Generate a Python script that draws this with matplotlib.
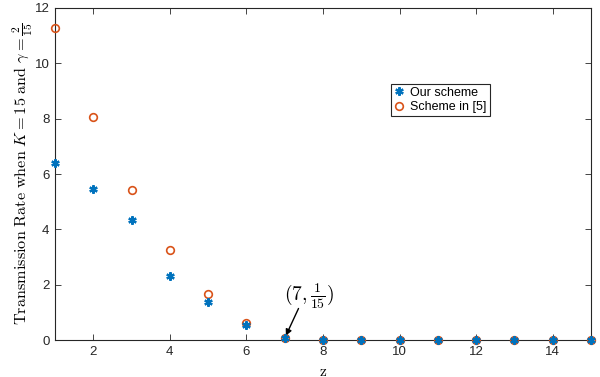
import matplotlib
matplotlib.use("Agg")
import matplotlib.pyplot as plt

z = list(range(1, 16))
our_scheme = [6.40, 5.45, 4.34, 2.33, 1.37, 0.55, 1/15, 0, 0, 0, 0, 0, 0, 0, 0]
scheme5 = [11.27, 8.06, 5.42, 3.26, 1.66, 0.60, 1/15, 0, 0, 0, 0, 0, 0, 0, 0]
xticks = [2, 4, 6, 8, 10, 12, 14]
yticks = [0, 2, 4, 6, 8, 10, 12]

plt.rcParams['font.family'] = ['Liberation Sans', 'DejaVu Sans']
plt.rcParams['mathtext.fontset'] = 'cm'

blue = '#0072BD'
orange = '#D95319'

fig = plt.figure(figsize=(6, 3.77), dpi=100)
ax = fig.add_axes([0.0917, 0.0981, 0.8933, 0.8807])

ax.plot(z, scheme5, linestyle='none', marker='o', markersize=5.5,
        markerfacecolor='none', markeredgecolor=orange, markeredgewidth=1.2,
        clip_on=False, zorder=3, label='Scheme in [5]')
ax.plot(z, our_scheme, linestyle='none', marker=(6, 2, 0), markersize=6,
        color=blue, markeredgewidth=1.6, clip_on=False, zorder=4,
        label='Our scheme')

ax.set_xlim(1, 15)
ax.set_ylim(0, 12)
ax.set_xticks(xticks)
ax.set_yticks(yticks)
ax.tick_params(direction='in', top=True, right=True, labelsize=9.5,
               colors='#262626', length=4, width=0.6, pad=4)
for s in ax.spines.values():
    s.set_linewidth(0.8)
    s.set_color('#262626')

ax.set_xlabel(r'$\mathrm{z}$', fontsize=11, labelpad=5)
ax.set_ylabel(r'$\mathrm{Transmission\ Rate\ when\ }K=15\mathrm{\ and\ }\gamma=\frac{2}{15}$',
              fontsize=11.7, labelpad=-1)

ax.text(7.62, 1.6, r'$(7,\frac{1}{15})$', ha='center', va='center', fontsize=14)
ax.annotate('', xy=(7, 1/15), xytext=(7.36, 1.14),
            arrowprops=dict(arrowstyle='-|>', color='black', lw=1.0,
                            mutation_scale=9, shrinkA=0, shrinkB=2))

handles, labels = ax.get_legend_handles_labels()
leg = ax.legend(handles[::-1], labels[::-1], loc='upper left',
                bbox_to_anchor=(0.627, 0.772), fontsize=9, frameon=True,
                fancybox=False, edgecolor='#262626', framealpha=1,
                handlelength=0.8, handletextpad=0.5, borderpad=0.25,
                labelspacing=0.2, borderaxespad=0)
leg.get_frame().set_linewidth(0.8)

fig.savefig('out.png', dpi=100)
